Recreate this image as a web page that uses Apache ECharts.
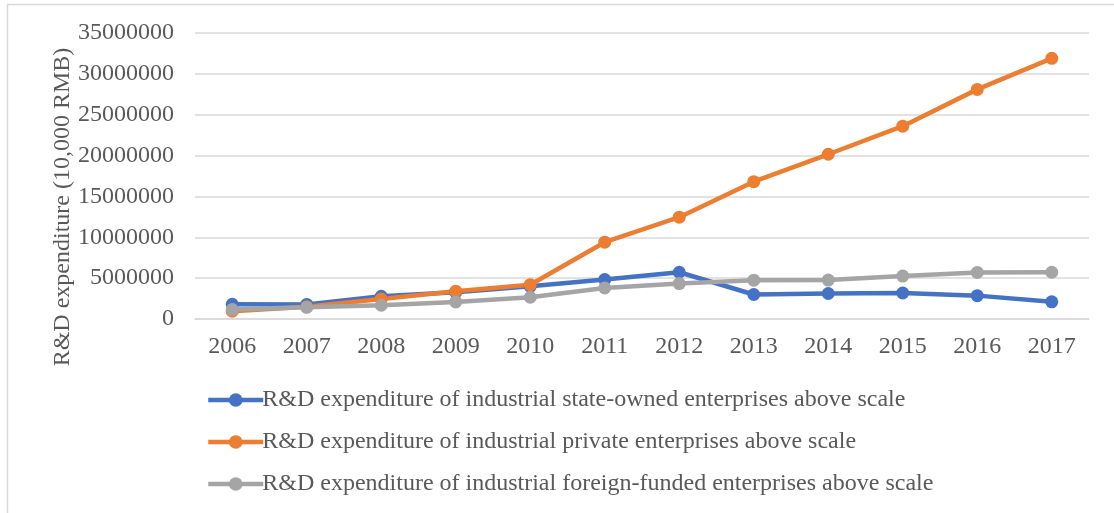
<!DOCTYPE html>
<html>
<head>
<meta charset="utf-8">
<script src="https://cdn.jsdelivr.net/npm/echarts@6/dist/echarts.min.js"></script>
<style>
  html, body { margin: 0; padding: 0; background: #fff; }
  #chart { width: 1114px; height: 513px; }
</style>
</head>
<body>
<div id="chart"></div>
<script>
// Years on the category axis
const years = ['2006', '2007', '2008', '2009', '2010', '2011', '2012', '2013', '2014', '2015', '2016', '2017'];

// R&D expenditure, unit: 10,000 RMB
const stateOwned = [1800000, 1780000, 2780000, 3280000, 4000000, 4820000, 5720000, 3000000, 3120000, 3180000, 2860000, 2100000];
const privateEnt = [950000, 1500000, 2450000, 3400000, 4200000, 9400000, 12460000, 16800000, 20160000, 23600000, 28100000, 31900000];
const foreignFunded = [1150000, 1430000, 1680000, 2090000, 2660000, 3800000, 4340000, 4750000, 4760000, 5250000, 5700000, 5720000];

// Y axis range
const yMin = 0;
const yMax = 35000000;
const yStep = 5000000;

const seriesNames = [
  'R&D expenditure of industrial state-owned enterprises above scale',
  'R&D expenditure of industrial private enterprises above scale',
  'R&D expenditure of industrial foreign-funded enterprises above scale'
];
const colors = ['#4472C4', '#ED7D31', '#A5A5A5'];

const font = '"Liberation Serif", "Times New Roman", serif';
const textColor = '#595959';

const chart = echarts.init(document.getElementById('chart'), null, { renderer: 'canvas' });

function lineSeries(name, data, color) {
  return {
    name: name,
    type: 'line',
    data: data,
    symbol: 'circle',
    symbolSize: 13,
    showSymbol: true,
    lineStyle: { color: color, width: 4.5 },
    itemStyle: { color: color },
    emphasis: { disabled: true },
    animation: false
  };
}

chart.setOption({
  animation: false,
  backgroundColor: '#ffffff',
  textStyle: { fontFamily: font },
  grid: { left: 195, right: 25, top: 33, bottom: 194 },
  xAxis: {
    type: 'category',
    data: years,
    boundaryGap: true,
    axisLine: { show: true, lineStyle: { color: '#D9D9D9', width: 1.5 } },
    axisTick: { show: false },
    axisLabel: { color: textColor, fontSize: 24, fontFamily: font, margin: 16 }
  },
  yAxis: {
    type: 'value',
    min: yMin,
    max: yMax,
    interval: yStep,
    axisLine: { show: false },
    axisTick: { show: false },
    splitLine: { lineStyle: { color: '#D9D9D9', width: 1.5 } },
    axisLabel: {
      color: textColor,
      fontSize: 24,
      fontFamily: font,
      margin: 21,
      formatter: function (v) { return String(v); }
    }
  },
  legend: {
    orient: 'vertical',
    left: 201,
    top: 383,
    itemWidth: 55,
    itemHeight: 17,
    itemGap: 18,
    selectedMode: false,
    lineStyle: { width: 4.5 },
    textStyle: { color: textColor, fontSize: 24, fontFamily: font, padding: [0, 0, 0, -6] },
    data: seriesNames
  },
  graphic: [
    {
      type: 'rect',
      shape: { x: 7.5, y: 4.5, width: 1200, height: 600 },
      style: { fill: 'none', stroke: '#D9D9D9', lineWidth: 1.5 },
      silent: true
    },
    {
      type: 'text',
      x: 63,
      y: 207,
      rotation: Math.PI / 2,
      style: {
        text: 'R&D expenditure (10,000 RMB)',
        fill: textColor,
        font: '24px ' + font,
        align: 'center',
        verticalAlign: 'middle'
      },
      silent: true
    }
  ],
  series: [
    lineSeries(seriesNames[0], stateOwned, colors[0]),
    lineSeries(seriesNames[1], privateEnt, colors[1]),
    lineSeries(seriesNames[2], foreignFunded, colors[2])
  ]
});
</script>
</body>
</html>
